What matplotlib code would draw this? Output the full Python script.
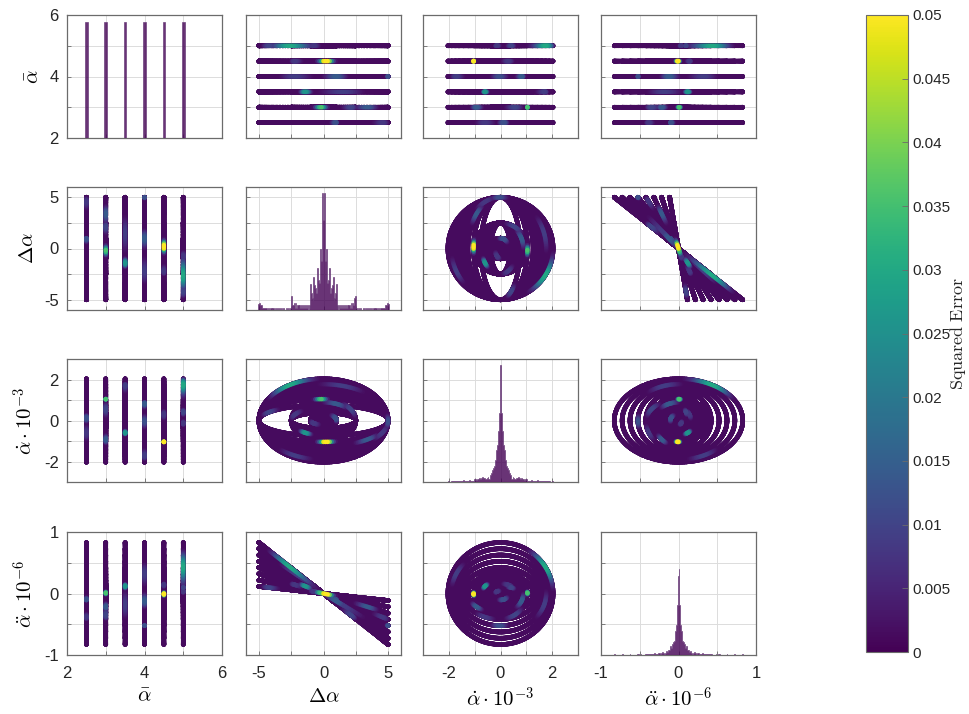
import numpy as np
import matplotlib
matplotlib.use("Agg")
import matplotlib.pyplot as plt
from matplotlib.colors import Normalize

plt.rcParams['font.family'] = ['Liberation Sans', 'DejaVu Sans']
plt.rcParams['mathtext.fontset'] = 'cm'

# test matrix: mean angle [deg], amplitude [deg], frequency [Hz]
alpha_mean = [2.5, 3.0, 3.5, 4.0, 4.5, 5.0]
amplitudes = [5.0, 2.5, 1.0, 0.75, 0.5, 0.25, 0.1]
freqs_hz = [24.1, 33.2, 40.2, 46.2, 51.5, 56.3, 60.7, 64.8]
n_samples = 200  # samples per period

# squared error: floor level + local spots
# (mean, amplitude, frequency, phase [rad], spread [rad], peak)
err_floor = 0.0015
err_spots = [
    (4.5, 5.0, 33.2, np.pi - 0.04, 0.06, 0.06),
    (3.0, 5.0, 33.2, -0.04, 0.05, 0.036),
    (5.0, 5.0, 64.8, -0.55, 0.2, 0.03),
    (3.5, 2.5, 46.2, np.pi + 0.6, 0.1, 0.026),
    (4.0, 2.5, 56.3, 0.4, 0.2, 0.014),
    (3.0, 5.0, 40.2, 2.4, 0.12, 0.014),
    (5.0, 5.0, 24.1, -1.0, 0.12, 0.01),
    (2.5, 1.0, 51.5, 1.2, 0.3, 0.012),
    (2.5, 5.0, 46.2, 2.0, 0.15, 0.008),
    (3.5, 5.0, 56.3, 0.3, 0.2, 0.009),
    (4.0, 5.0, 60.7, 3.6, 0.15, 0.009),
    (4.5, 2.5, 40.2, 5.2, 0.2, 0.008),
    (3.0, 2.5, 64.8, 1.0, 0.2, 0.01),
    (5.0, 1.0, 33.2, 4.0, 0.3, 0.008),
    (4.0, 5.0, 51.5, 1.6, 0.1, 0.012),
]

names = [r'$\bar{\alpha}$', r'$\Delta\alpha$',
         r'$\dot{\alpha}\cdot10^{-3}$', r'$\ddot{\alpha}\cdot10^{-6}$']
lims = [(2, 6), (-6, 6), (-3, 3), (-1, 1)]
ticks = [[2, 3, 4, 5, 6], [-5, -2.5, 0, 2.5, 5],
         [-3, -2, -1, 0, 1, 2, 3], [-1, -0.5, 0, 0.5, 1]]
tick_labels = [['2', '', '4', '', '6'], ['-5', '', '0', '', '5'],
               ['', '-2', '', '0', '', '2', ''], ['-1', '', '0', '', '1']]
mean_edges = np.sort(np.r_[np.array(alpha_mean) - 0.035, np.array(alpha_mean) + 0.035])
hist_bins = [mean_edges, np.linspace(-5.1, 5.1, 171),
             np.linspace(-2.2, 2.2, 141), np.linspace(-0.9, 0.9, 181)]
hist_top = [0.94, 0.95, 0.95, 0.70]

# sinusoidal pitching trajectories
omega = 2 * np.pi * np.array(freqs_hz)
theta = np.linspace(0, 2 * np.pi, n_samples, endpoint=False)
M, A, W, TH = np.meshgrid(alpha_mean, amplitudes, omega, theta, indexing='ij')
M, A, W, TH = [a.ravel() for a in (M, A, W, TH)]
d_alpha = A * np.sin(TH)
alpha_dot = A * W * np.cos(TH) * 1e-3
alpha_ddot = -A * W**2 * np.sin(TH) * 1e-6

err = np.full(M.shape, err_floor)
for m, a, f, th0, spread, peak in err_spots:
    sel = (M == m) & (A == a) & np.isclose(W, 2 * np.pi * f)
    d = np.angle(np.exp(1j * (TH - th0)))
    err = np.where(sel, np.maximum(err, peak * np.exp(-0.5 * (d / spread)**2)), err)

order = np.argsort(err)
variables = [M[order], d_alpha[order], alpha_dot[order], alpha_ddot[order]]
err = err[order]

W_px, H_px = 969, 714
fig = plt.figure(figsize=(W_px / 100, H_px / 100), dpi=100)
col_left = [67, 246, 423, 601]
row_top = [15, 187, 359, 532]
aw, ah = 155, 123

norm = Normalize(0, 0.05)
cmap = plt.get_cmap('viridis')
box_color = '#6b6b6b'

for r in range(4):
    for c in range(4):
        ax = fig.add_axes([col_left[c] / W_px, 1 - (row_top[r] + ah) / H_px,
                           aw / W_px, ah / H_px])
        ax.set_xlim(lims[c])
        ax.set_ylim(lims[r])
        ax.set_xticks(ticks[c])
        ax.set_yticks(ticks[r])
        ax.set_xticklabels(tick_labels[c] if r == 3 else [])
        ax.set_yticklabels(tick_labels[r] if c == 0 else [])
        ax.grid(True, color='#dcdcdc', linewidth=0.7)
        ax.set_axisbelow(True)
        ax.tick_params(direction='in', length=3, width=0.6, colors=box_color,
                       labelcolor='#262626', labelsize=12)
        ax.tick_params(axis='x', pad=8)
        ax.tick_params(axis='y', pad=6)
        for s in ax.spines.values():
            s.set_color(box_color)
            s.set_linewidth(0.9)
        if r == c:
            hax = ax.twinx()
            counts, _, _ = hax.hist(variables[c], bins=hist_bins[c],
                                    histtype='stepfilled', color=cmap(0.0),
                                    alpha=0.8, edgecolor='#6a3d7a', linewidth=0.6)
            hax.set_ylim(0, counts.max() / hist_top[c])
            hax.set_yticks([])
            hax.set_xlim(lims[c])
            for s in hax.spines.values():
                s.set_visible(False)
        else:
            ax.scatter(variables[c], variables[r], c=err, cmap=cmap, norm=norm,
                       s=11, linewidths=0, rasterized=True)
        if c == 0:
            ax.set_ylabel(names[r], fontsize=15, labelpad=5)
        if r == 3:
            ax.set_xlabel(names[c], fontsize=15, labelpad=4)

cax = fig.add_axes([866 / W_px, 1 - 652 / H_px, 42 / W_px, 637 / H_px])
sm = plt.cm.ScalarMappable(norm=norm, cmap=cmap)
cb = fig.colorbar(sm, cax=cax)
cb_ticks = np.arange(0, 0.0501, 0.005)
cb.set_ticks(cb_ticks)
cb.set_ticklabels(['0'] + ['%g' % t for t in cb_ticks[1:]])
cb.ax.tick_params(direction='in', length=4, width=0.6, colors=box_color,
                  labelcolor='#262626', labelsize=11, pad=3)
cb.outline.set_edgecolor(box_color)
cb.outline.set_linewidth(0.8)
fig.text(968 / W_px, 1 - 334 / H_px, r'$\mathrm{Squared\ Error}$', fontsize=13,
         rotation=90, ha='right', va='center', color='#262626')

fig.savefig('out.png', dpi=100)
